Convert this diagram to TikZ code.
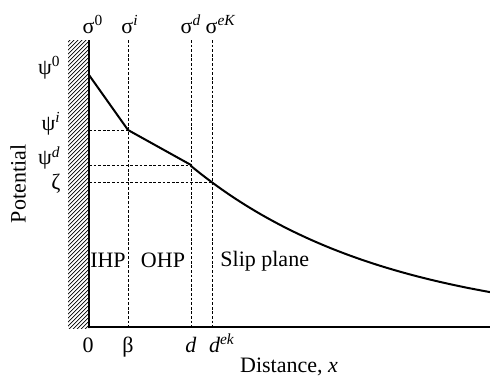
\documentclass[tikz,border=0pt]{standalone}
\usepackage{fontspec}
\setmainfont{Liberation Serif}
\usepackage{xcolor}
\usepackage{tikz}

\begin{document}
\begin{tikzpicture}[x=0.5pt, y=-0.5pt,
    lbl/.style={font=\fontsize{11}{13}\selectfont, inner sep=0pt},
    guide/.style={line width=0.4pt, dash pattern=on 1.4pt off 0.9pt},
    axisline/.style={line width=0.8pt},
    potcurve/.style={line width=1pt, line join=round}]
    \useasboundingbox (0,0) rectangle (490,386);

    % wall
    \begin{scope}
      \clip (68,40) rectangle (89,328);
      \foreach \k in {0,4,...,320}
        \draw[line width=0.35pt] (66,\k+44) -- ++(26,-26);
    \end{scope}

    \coordinate (T)  at (89,40);
    \coordinate (O)  at (89,327);
    \coordinate (E)  at (490,327);
    \coordinate (P0) at (89,75);
    \coordinate (Pi) at (128,130);
    \coordinate (Pd) at (191,165);
    \coordinate (Pz) at (212,182);

    \draw[axisline] (T) -- (O) -- (E);

    % planes
    \draw[guide] (Pi |- T) -- (Pi |- O);
    \draw[guide] (Pd |- T) -- (Pd |- O);
    \draw[guide] (Pz |- T) -- (Pz |- O);
    \draw[guide] (O |- Pi) -- (Pi);
    \draw[guide] (O |- Pd) -- (Pd);
    \draw[guide] (O |- Pz) -- (Pz);

    % potential
    \draw[potcurve] (P0) -- (Pi) -- (Pd)
      -- plot[domain=191:490, samples=60]
         (\x, {327-161*exp(-0.00511*(\x-191))});

    % charges
    \node[lbl, anchor=base] (s0) at (93,33)  {σ\textsuperscript{0}};
    \node[lbl, anchor=base] (si) at (130,33) {σ\textsuperscript{\textit{i}}};
    \node[lbl, anchor=base] (sd) at (191,33) {σ\textsuperscript{\textit{d}}};
    \node[lbl, anchor=base] (sk) at (221,33) {σ\textsuperscript{\textit{eK}}};

    % potentials
    \node[lbl, anchor=east] (p0) at (61,68)  {ψ\textsuperscript{0}};
    \node[lbl, anchor=east] (pi) at (61,124) {ψ\textsuperscript{\textit{i}}};
    \node[lbl, anchor=east] (pd) at (61,158) {ψ\textsuperscript{\textit{d}}};
    \node[lbl, anchor=east] (pz) at (61,184) {ζ};
    \node[lbl, rotate=90] (ylab) at (18,184) {Potential};

    % layers
    \node[lbl, anchor=base] (ihp) at (108,267) {IHP};
    \node[lbl, anchor=base] (ohp) at (163,267) {OHP};
    \node[lbl, anchor=base west] (slip) at (220,266) {Slip plane};

    % distances
    \node[lbl, anchor=base] (x0) at (88,352)  {0};
    \node[lbl, anchor=base] (xb) at (128,352) {β};
    \node[lbl, anchor=base] (xd) at (191,352) {\textit{d}};
    \node[lbl, anchor=base] (xk) at (222,352) {\textit{d}\textsuperscript{\textit{ek}}};
    \node[lbl, anchor=base] (xlab) at (289,372) {Distance, \textit{x}};
  \end{tikzpicture}
\end{document}
